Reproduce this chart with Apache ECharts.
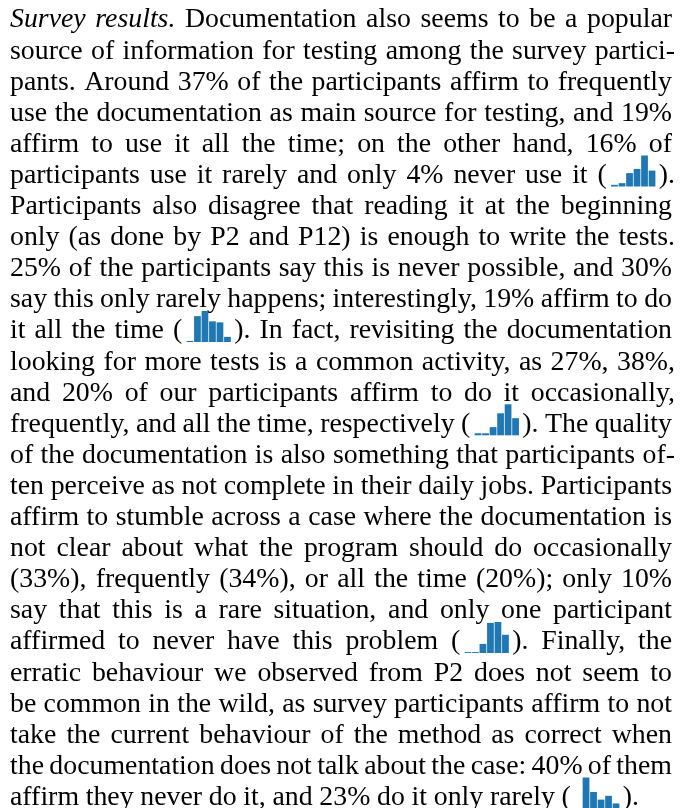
<!DOCTYPE html>
<html><head><meta charset="utf-8">
<script src="https://cdn.jsdelivr.net/npm/echarts@6/dist/echarts.min.js"></script>
<style>html,body{margin:0;padding:0;background:#fff}#c{width:684px;height:808px}</style>
</head><body><div id="c"></div>
<script>
// ---- data ----
const categories = ['N/A', 'Never', 'Rarely', 'Occasionally', 'Frequently', 'All the time'];
const useDocs         = [2, 4, 16, 21, 37, 19];
const readOnlyAtStart = [1, 25, 30, 20, 19, 5];
const revisitDocs     = [2.5, 2.5, 10, 27, 38, 21];
const unclearDocs     = [1, 1, 10, 33, 34, 20];
const trustBehaviour  = [0, 40, 21, 11, 16, 6];
const sparkData = [useDocs, readOnlyAtStart, revisitDocs, unclearDocs, trustBehaviour];

// paragraph lines; *word = italic, {n} = sparkline n
const lines = [
  '*Survey *results. Documentation also seems to be a popular',
  'source of information for testing among the survey partici-',
  'pants. Around 37% of the participants affirm to frequently',
  'use the documentation as main source for testing, and 19%',
  'affirm to use it all the time; on the other hand, 16% of',
  'participants use it rarely and only 4% never use it ({0}).',
  'Participants also disagree that reading it at the beginning',
  'only (as done by P2 and P12) is enough to write the tests.',
  '25% of the participants say this is never possible, and 30%',
  'say this only rarely happens; interestingly, 19% affirm to do',
  'it all the time ({1}). In fact, revisiting the documentation',
  'looking for more tests is a common activity, as 27%, 38%,',
  'and 20% of our participants affirm to do it occasionally,',
  'frequently, and all the time, respectively ({2}). The quality',
  'of the documentation is also something that participants of-',
  'ten perceive as not complete in their daily jobs. Participants',
  'affirm to stumble across a case where the documentation is',
  'not clear about what the program should do occasionally',
  '(33%), frequently (34%), or all the time (20%); only 10%',
  'say that this is a rare situation, and only one participant',
  'affirmed to never have this problem ({3}). Finally, the',
  'erratic behaviour we observed from P2 does not seem to',
  'be common in the wild, as survey participants affirm to not',
  'take the current behaviour of the method as correct when',
  'the documentation does not talk about the case: 40% of them',
  'affirm they never do it, and 23% do it only rarely ({4}).'
];

// ---- layout ----
const FAMILY = '"Liberation Serif", "Times New Roman", serif';
const FS = 26.5;
const WX = 1.05;           // widen glyphs toward the reference face
const LEFT = 10, RIGHT = 672, LAST_RIGHT = 639, PROTRUDE = 3;
const BASE0 = 29.5, LEAD = 31.1;
const SPARK_W = 45, SPARK_H = 31, PAD_L = 4, PAD_R = 3;
const MID_OFF = 0.34 * FS;

const ctx = document.createElement('canvas').getContext('2d');
function fontStr(it) { return (it ? 'italic ' : '') + FS + 'px ' + FAMILY; }
function measure(t, it) { ctx.font = fontStr(it); return ctx.measureText(t).width * WX; }

const graphics = [], grids = [], xAxes = [], yAxes = [], series = [];
const sparkPos = {};

lines.forEach((line, li) => {
  const baseline = BASE0 + li * LEAD;
  const items = line.split(' ').map(tok => {
    let it = false;
    if (tok.startsWith('*')) { it = true; tok = tok.slice(1); }
    const m = tok.match(/^(.*?)\{(\d)\}(.*)$/);
    if (m) {
      const wp = measure(m[1], it), wq = measure(m[3], it);
      return { spark: +m[2], pre: m[1], post: m[3], it, wp, wq, w: wp + PAD_L + SPARK_W + PAD_R + wq };
    }
    return { text: tok, it, w: measure(tok, it) };
  });
  const isLast = li === lines.length - 1;
  let right = isLast ? LAST_RIGHT : RIGHT;
  if (!isLast && /[.,;\-]$/.test(line)) right += PROTRUDE;
  const total = items.reduce((s, d) => s + d.w, 0);
  let gap = (right - LEFT - total) / (items.length - 1);
  let sx = 1;
  if (gap < 4) { gap = 4; sx = (right - LEFT - gap * (items.length - 1)) / total; }
  let x = LEFT;
  const addText = (t, xx, it) => graphics.push({
    type: 'text', x: xx, y: baseline - MID_OFF, scaleX: sx * WX, silent: true,
    style: { text: t, font: fontStr(it), fill: '#000', align: 'left', verticalAlign: 'middle' }
  });
  items.forEach(d => {
    if (d.spark !== undefined) {
      addText(d.pre, x, d.it);
      const left = x + (d.wp + PAD_L) * sx;
      sparkPos[d.spark] = { left, top: baseline + 1.5 - SPARK_H };
      addText(d.post, left + (SPARK_W + PAD_R) * sx, d.it);
    } else {
      addText(d.text, x, d.it);
    }
    x += d.w * sx + gap;
  });
});

sparkData.forEach((vals, k) => {
  const p = sparkPos[k];
  grids.push({ left: p.left, top: p.top, width: SPARK_W, height: SPARK_H });
  xAxes.push({ type: 'category', data: categories, gridIndex: k, show: false });
  yAxes.push({ type: 'value', gridIndex: k, show: false, min: 0, max: 'dataMax' });
  series.push({
    type: 'bar', xAxisIndex: k, yAxisIndex: k, data: vals, silent: true,
    barCategoryGap: '10%', itemStyle: { color: '#1f77b4' }
  });
});

const chart = echarts.init(document.getElementById('c'), null, { renderer: 'canvas' });
chart.setOption({
  animation: false,
  backgroundColor: '#ffffff',
  grid: grids, xAxis: xAxes, yAxis: yAxes, series,
  graphic: graphics
});
</script></body></html>
